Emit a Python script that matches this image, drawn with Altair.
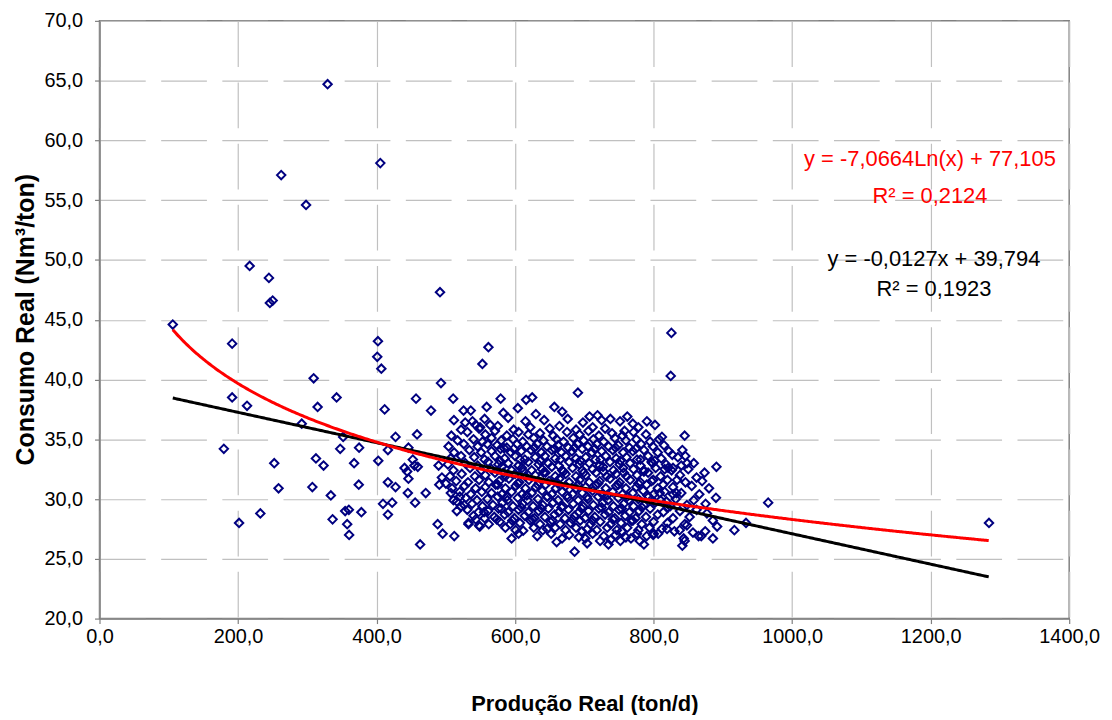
import altair as alt
import pandas as pd

# ---------------- data ----------------
outer_x = [105.8, 191.5, 191.5, 179.5, 201.5, 213, 216.8, 232.2, 244.6, 246, 250, 252.3, 258.5,
           262.3, 292, 298.2, 307.3, 309.2, 312.5, 314.9, 323.5, 329.3, 334, 336.5, 342.3, 347.5,
           351.8, 354.7, 360, 357.6, 360.4, 367.6, 374.8, 374.3, 378.1, 401, 402, 402.5, 405.4,
           406.9, 409.3, 411.7, 416.4, 416.4, 416.4, 422.5, 427.4, 427.4, 440.4, 444.2, 446, 445.2,
           446, 452.3, 454.7, 459.5, 455.7, 457, 458.5, 462.9, 471, 478.6, 488.2, 489.6, 490.6,
           491.6, 493, 494.4, 495.4, 500.1, 507.3, 510.6, 511.7, 512.2, 515.9, 515.9, 520.2, 525.6,
           526.6, 532.7, 536, 538.5, 543.2, 543.2, 549, 549.5, 552.8, 555.3, 559, 561.5, 564, 579.2,
           616, 624.7, 656.7, 690.7, 707.5, 737.6, 751.5, 790.3, 824.7, 825.7, 827, 833.8, 841.5,
           844.8, 845.8, 848.2, 873.5, 890.7, 916.6, 933.4, 965.4, 1284.2,
           595, 611.7, 646.2, 667.8, 685.9, 722.8, 734.8, 767.3, 786, 799.4, 806.6, 841.5, 843.4,
           868.8, 885.6, 573.4, 532.8, 548, 696.5, 701.3, 753.9,
           877, 885.5, 891.7, 874.5, 864.9, 856.8, 844.8, 837.6, 848.1, 819.4, 800.3, 820.9, 828,
           833, 818.5, 808.9, 799.4, 816, 821, 828, 801.7, 798.4, 813.7]
outer_y = [44.6, 43.0, 38.5, 34.2, 28.0, 37.8, 49.5, 28.8, 48.5, 46.4, 46.6, 33.0, 30.9,
           57.1, 36.3, 54.6, 31.0, 40.1, 33.4, 37.7, 32.8, 64.7, 30.3, 28.3, 38.5, 34.2,
           35.2, 29.0, 29.1, 27.9, 27.0, 33.0, 34.3, 31.2, 28.9, 41.9, 43.2, 33.2, 58.1,
           40.9, 29.6, 37.5, 34.1, 31.4, 28.7, 29.7, 35.2, 31.0, 32.6, 32.3, 31.7, 30.5,
           34.3, 33.3, 32.8, 32.7, 29.7, 38.4, 35.4, 26.2, 30.5, 37.4, 27.9, 32.8, 31.2,
           47.3, 39.7, 31.8, 27.1, 31.3, 30.5, 38.4, 36.6, 26.9, 29.8, 29.0, 30.2, 37.4,
           29.5, 27.9, 37.4, 36.5, 36.2, 28.3, 27.7, 36.0, 41.3, 28.9, 37.7, 42.7, 36.2, 38.4,
           38.3, 38.5, 37.7, 38.9, 36.9, 36.7, 36.5, 36.5, 40.3, 43.9, 33.7, 31.6, 34.1,
           35.3, 33.6, 33.0, 32.2, 32.7, 27.4, 28.0, 29.7, 28.0,
           26.7, 27.35, 27.5, 26.7, 25.6, 26.5, 26.2, 26.7, 26.2, 27.0, 27.1, 26.1, 26.7,
           26.9, 26.7, 28.3, 28.0, 27.8, 27.3, 26.7, 27.3,
           28.8, 28.2, 27.7, 27.3, 26.9, 27.2, 26.5, 27.4, 27.8, 27.5, 27.1, 29.3, 30.4,
           30.5, 29.8, 30.5, 31.6, 32.5, 32.6, 32.6, 33.2, 33.0, 31.2]

# dense core of the cloud, estimated row by row
core = [
    (583, 37.2), (604, 37.6), (630, 37.1), (668, 37.3), (719, 37.0), (762, 36.9),
    (528, 36.4), (556, 36.7), (590, 36.8), (615, 36.5), (642, 36.6), (676, 36.7), (698, 36.4),
    (725, 36.6), (770, 36.3), (802, 36.2),
    (522, 35.8), (548, 35.9), (575, 36.1), (598, 35.8), (622, 36.0), (650, 35.9), (664, 36.1),
    (688, 35.8), (712, 36.0), (730, 35.9), (758, 35.7), (778, 36.0),
    (508, 35.3), (531, 35.6), (557, 35.4), (571, 35.7), (588, 35.3), (605, 35.6), (619, 35.4),
    (636, 35.5), (655, 35.3), (675, 35.6), (693, 35.4), (706, 35.7), (721, 35.3), (740, 35.5),
    (755, 35.3), (771, 35.6), (789, 35.4), (812, 35.2),
    (517, 34.9), (540, 35.0), (553, 34.8), (566, 35.1), (580, 34.9), (597, 35.0), (611, 34.8),
    (627, 35.1), (641, 34.9), (660, 35.0), (670, 34.8), (684, 35.1), (699, 34.9), (713, 35.0),
    (728, 34.8), (744, 35.1), (760, 34.9), (775, 35.0), (795, 34.8), (808, 35.0),
    (504, 34.4), (526, 34.6), (546, 34.4), (560, 34.6), (574, 34.5), (588, 34.3), (603, 34.6),
    (617, 34.4), (632, 34.6), (646, 34.4), (662, 34.5), (677, 34.3), (690, 34.6), (705, 34.4),
    (718, 34.6), (735, 34.4), (749, 34.5), (765, 34.3), (782, 34.6), (799, 34.4), (815, 34.5),
    (512, 33.9), (534, 34.1), (551, 33.9), (566, 34.0), (579, 34.2), (594, 33.9), (609, 34.0),
    (623, 34.1), (638, 33.9), (653, 34.1), (667, 33.9), (682, 34.0), (697, 34.2), (711, 33.9),
    (725, 34.0), (741, 34.1), (756, 33.9), (770, 34.0), (786, 34.1), (806, 33.9), (822, 34.0),
    (507, 33.4), (522, 33.6), (541, 33.5), (556, 33.3), (571, 33.6), (585, 33.4), (600, 33.6),
    (614, 33.3), (629, 33.5), (643, 33.6), (658, 33.4), (673, 33.6), (688, 33.4), (702, 33.5),
    (716, 33.3), (731, 33.6), (746, 33.4), (761, 33.5), (776, 33.3), (792, 33.6), (811, 33.4),
    (835, 33.5),
    (503, 32.9), (528, 33.0), (546, 32.8), (561, 33.1), (576, 32.9), (590, 33.0), (605, 32.8),
    (619, 33.1), (634, 32.9), (648, 33.0), (663, 32.8), (678, 33.1), (693, 32.9), (707, 33.0),
    (722, 32.8), (737, 33.1), (751, 32.9), (766, 33.0), (781, 32.8), (797, 33.1), (818, 32.9),
    (840, 32.8), (858, 33.0),
    (511, 32.4), (535, 32.6), (551, 32.4), (566, 32.5), (581, 32.7), (595, 32.4), (610, 32.6),
    (624, 32.4), (639, 32.5), (653, 32.7), (668, 32.4), (683, 32.6), (697, 32.4), (712, 32.5),
    (727, 32.7), (742, 32.4), (756, 32.6), (771, 32.5), (786, 32.4), (803, 32.6), (826, 32.4),
    (850, 32.5),
    (506, 31.9), (523, 32.1), (542, 31.9), (557, 32.0), (571, 32.2), (586, 31.9), (600, 32.1),
    (615, 31.9), (629, 32.0), (644, 32.2), (658, 31.9), (673, 32.1), (688, 31.9), (702, 32.0),
    (717, 32.2), (732, 31.9), (746, 32.1), (761, 31.9), (776, 32.0), (792, 32.2), (810, 31.9),
    (838, 32.0), (862, 31.8),
    (515, 31.5), (532, 31.4), (548, 31.6), (562, 31.4), (577, 31.5), (591, 31.7), (606, 31.4),
    (620, 31.6), (635, 31.4), (649, 31.5), (664, 31.7), (678, 31.4), (693, 31.6), (707, 31.4),
    (722, 31.5), (737, 31.7), (751, 31.4), (766, 31.6), (781, 31.4), (797, 31.5), (820, 31.6),
    (846, 31.4), (870, 31.5),
    (509, 30.9), (527, 31.1), (543, 30.9), (557, 31.0), (572, 31.2), (586, 30.9), (601, 31.1),
    (615, 30.9), (630, 31.0), (644, 31.2), (659, 30.9), (673, 31.1), (688, 30.9), (702, 31.0),
    (717, 31.2), (731, 30.9), (746, 31.1), (760, 30.9), (775, 31.0), (790, 31.2), (806, 30.9),
    (828, 31.0), (855, 31.1), (880, 30.9),
    (520, 30.6), (536, 30.4), (552, 30.6), (566, 30.5), (581, 30.4), (595, 30.6), (610, 30.4),
    (624, 30.5), (639, 30.7), (653, 30.4), (668, 30.6), (683, 30.4), (697, 30.5), (712, 30.7),
    (726, 30.4), (741, 30.6), (755, 30.4), (770, 30.5), (785, 30.7), (800, 30.4), (816, 30.6),
    (840, 30.5), (866, 30.4),
    (511, 29.9), (529, 30.1), (545, 29.9), (560, 30.0), (575, 30.2), (589, 29.9), (604, 30.1),
    (618, 29.9), (633, 30.0), (647, 30.2), (662, 29.9), (676, 30.1), (691, 29.9), (705, 30.0),
    (720, 30.2), (734, 29.9), (749, 30.1), (764, 29.9), (778, 30.0), (793, 30.2), (810, 29.9),
    (832, 30.0), (858, 29.9), (890, 30.1),
    (522, 29.4), (538, 29.6), (553, 29.4), (568, 29.5), (582, 29.7), (597, 29.4), (611, 29.6),
    (626, 29.4), (640, 29.5), (655, 29.7), (669, 29.4), (684, 29.6), (698, 29.4), (713, 29.5),
    (727, 29.7), (742, 29.4), (757, 29.6), (771, 29.4), (786, 29.5), (802, 29.7), (824, 29.4),
    (848, 29.5), (875, 29.6),
    (531, 29.1), (547, 28.9), (561, 29.0), (576, 29.2), (590, 28.9), (605, 29.1), (619, 28.9),
    (634, 29.0), (648, 29.2), (663, 28.9), (677, 29.1), (692, 28.9), (706, 29.0), (721, 29.2),
    (735, 28.9), (750, 29.1), (765, 28.9), (779, 29.0), (795, 29.2), (814, 28.9), (838, 29.0),
    (862, 29.1),
    (540, 28.6), (556, 28.4), (570, 28.5), (585, 28.7), (599, 28.4), (614, 28.6), (628, 28.4),
    (643, 28.5), (657, 28.7), (672, 28.4), (686, 28.6), (701, 28.4), (715, 28.5), (730, 28.7),
    (744, 28.4), (759, 28.6), (774, 28.4), (789, 28.5), (806, 28.7), (828, 28.4), (852, 28.5),
    (562, 27.9), (578, 28.1), (593, 27.9), (607, 28.0), (622, 28.2), (636, 27.9), (651, 28.1),
    (665, 27.9), (680, 28.0), (694, 28.2), (709, 27.9), (723, 28.1), (738, 27.9), (753, 28.0),
    (768, 28.2), (783, 27.9), (800, 28.1), (820, 28.0), (845, 27.9),
    (586, 27.6), (601, 27.4), (627, 27.6), (640, 27.4), (658, 27.6), (673, 27.4), (688, 27.6),
    (704, 27.5), (718, 27.4), (733, 27.6), (747, 27.4), (762, 27.6), (778, 27.4), (794, 27.6),
    (812, 27.5), (830, 27.3),
    (605, 27.1), (632, 26.9), (652, 27.1), (678, 27.0), (692, 26.8), (712, 27.1), (728, 26.9),
    (745, 27.0), (760, 26.8), (776, 27.1), (790, 26.9),
    (660, 26.4), (704, 26.3), (738, 26.6), (752, 26.5), (780, 26.5),
    (584, 34.25), (598, 34.2), (628, 34.3), (657, 34.2), (686, 34.3), (715, 34.2), (745, 34.3),
    (774, 34.2),
    (578, 33.2), (607, 33.3), (636, 33.2), (665, 33.3), (694, 33.2), (723, 33.3), (752, 33.2),
    (781, 33.3),
    (583, 32.2), (612, 32.3), (641, 32.2), (670, 32.3), (699, 32.2), (728, 32.3), (757, 32.2),
    (786, 32.3),
    (575, 31.2), (604, 31.3), (633, 31.2), (662, 31.3), (691, 31.2), (720, 31.3), (749, 31.2),
    (778, 31.3),
    (588, 30.2), (617, 30.3), (646, 30.2), (675, 30.3), (704, 30.2), (733, 30.3), (762, 30.2),
    (791, 30.3),
    (580, 29.2), (609, 29.3), (638, 29.2), (667, 29.3), (696, 29.2), (725, 29.3), (754, 29.2),
    (783, 29.3),
    (596, 28.2), (625, 28.3), (654, 28.2), (683, 28.3), (712, 28.2), (741, 28.3), (770, 28.2),
]

# trendline equations printed on the chart
LIN_SLOPE, LIN_INTERCEPT = -0.0127, 39.794
LOG_COEF, LOG_INTERCEPT = -7.0664, 77.105

x_ticks = [0, 200, 400, 600, 800, 1000, 1200, 1400]
y_ticks = [20, 25, 30, 35, 40, 45, 50, 55, 60, 65, 70]

eq_log = "y = -7,0664Ln(x) + 77,105"
r2_log = "R² = 0,2124"
eq_lin = "y = -0,0127x + 39,794"
r2_lin = "R² = 0,1923"

x_title = "Produção Real (ton/d)"
y_title = "Consumo Real (Nm³/ton)"

# ---------------- build ----------------
pts = pd.DataFrame({
    "x": outer_x + [p[0] for p in core],
    "y": outer_y + [p[1] for p in core],
})
xmin, xmax = float(pts["x"].min()), float(pts["x"].max())

FONT = "Liberation Sans"
label_expr = "replace(format(datum.value, '.1f'), '.', ',')"

xs = alt.Scale(domain=[0, 1400], nice=False, zero=False)
ys = alt.Scale(domain=[20, 70], nice=False, zero=False)

xaxis = alt.Axis(values=x_ticks, labelExpr=label_expr, title=x_title,
                 titleFont=FONT, titleFontSize=22, titleFontWeight="bold",
                 titleBaseline="alphabetic", titleY=92, titleColor="black",
                 labelPadding=3)
yaxis = alt.Axis(values=y_ticks, labelExpr=label_expr, title=y_title,
                 titleFont=FONT, titleFontSize=25, titleFontWeight="bold",
                 titleAngle=270, titleBaseline="alphabetic", titleX=-66, titleY=300,
                 titleColor="black", labelPadding=12)

scatter = alt.Chart(pts).mark_point(shape="diamond", filled=False, color="#000080",
                                    size=72, strokeWidth=2, opacity=1).encode(
    x=alt.X("x:Q", scale=xs, axis=xaxis),
    y=alt.Y("y:Q", scale=ys, axis=yaxis),
)

trend = alt.Chart(alt.sequence(start=xmin, stop=xmax + 0.5, step=2.0, as_="x")).transform_calculate(
    lin=f"{LIN_SLOPE}*datum.x + {LIN_INTERCEPT}",
    logv=f"{LOG_COEF}*log(datum.x) + {LOG_INTERCEPT}",
)

lin_line = trend.mark_line(color="black", strokeWidth=3, clip=True).encode(
    x=alt.X("x:Q", scale=xs), y=alt.Y("lin:Q", scale=ys))
log_line = trend.mark_line(color="#ff0000", strokeWidth=3, clip=True).encode(
    x=alt.X("x:Q", scale=xs), y=alt.Y("logv:Q", scale=ys))


def label(txt, color, px, py):
    return alt.Chart(pd.DataFrame({"t": [txt]})).mark_text(
        font=FONT, fontSize=22, color=color, align="center", baseline="alphabetic").encode(
        x=alt.value(px), y=alt.value(py), text="t:N")


texts = (label(eq_log, "#ff0000", 835, 146) + label(r2_log, "#ff0000", 835, 183)
         + label(eq_lin, "black", 839, 246) + label(r2_lin, "black", 839, 277))

chart = alt.layer(scatter, lin_line, log_line, texts).properties(
    width=975, height=601,
    padding={"left": 92, "top": 11, "right": 35, "bottom": 95},
    autosize=alt.AutoSizeParams(type="none"),
    background="white",
).configure_view(
    stroke="#808080", strokeWidth=1.5,
).configure_axis(
    grid=True, gridColor="#c0c0c0", gridWidth=1.2, gridDash=[46, 15.5],
    domainColor="#808080", domainWidth=1.5, tickColor="#808080", tickSize=5, tickWidth=1.2,
    labelFont=FONT, labelFontSize=20, labelColor="black",
    labelFlush=False, labelOverlap=False,
)

chart.save("out.html", embed_options={"renderer": "svg", "actions": False})
